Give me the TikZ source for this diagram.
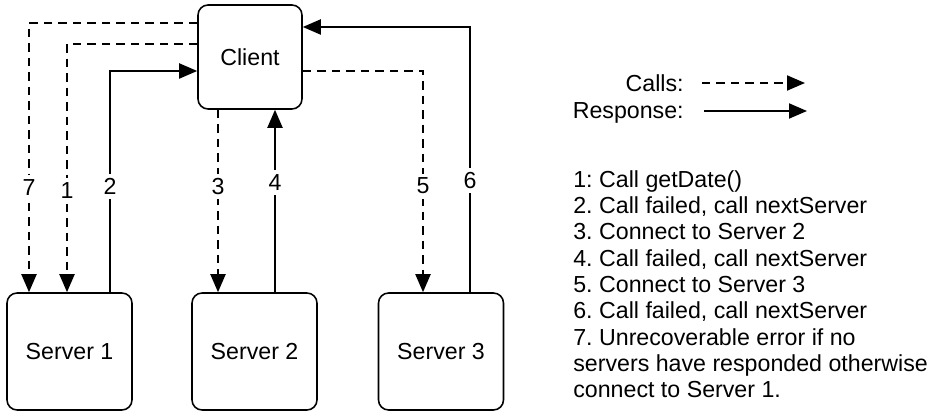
\documentclass[tikz,border=0pt]{standalone}
\usepackage{fontspec}
\setmainfont{Liberation Sans}
\usetikzlibrary{arrows.meta, positioning, calc}
\frenchspacing

\begin{document}
\begin{tikzpicture}[x=0.02cm, y=-0.02cm, font=\fontsize{13.2}{15.0}\selectfont,
	box/.style={rectangle, rounded corners=0.2cm, draw, line width=0.9pt},
	call/.style={line width=1.1pt, dash pattern=on 0.17cm off 0.12cm, -{Triangle[length=0.36cm, width=0.3cm]}},
	resp/.style={line width=1.1pt, -{Triangle[length=0.36cm, width=0.3cm]}},
	lbl/.style={fill=white, inner sep=2.5pt}]
	\useasboundingbox (0,0) rectangle (931,411);
	\node[box, minimum width=2.08cm, minimum height=2.08cm] (client) at (250,57) {Client};
	\node[box, minimum width=2.5cm, minimum height=2.34cm] (srv1) at (69.5,351.5) {Server 1};
	\node[box, minimum width=2.5cm, minimum height=2.34cm] (srv2) at (254.5,351.5) {Server 2};
	\node[box, minimum width=2.5cm, minimum height=2.34cm] (srv3) at (441,351.5) {Server 3};
	% bends of the connectors
	\coordinate (c7) at (29,23);
	\coordinate (c1) at (67,44);
	\coordinate (c2) at (110,71);
	\coordinate (c3) at (218,0);
	\coordinate (c4) at (275,0);
	\coordinate (c5) at (423,71);
	\coordinate (c6) at (470,27);
	\draw[call] (c7 -| client.west) -- (c7) -- (c7 |- srv1.north) node[lbl, pos=0.61] (l7) {7};
	\draw[call] (c1 -| client.west) -- (c1) -- (c1 |- srv1.north) node[lbl, pos=0.59] (l1) {1};
	\draw[resp] (c2 |- srv1.north) -- node[lbl, pos=0.48] (l2) {2} (c2) -- (c2 -| client.west);
	\draw[call] (c3 |- client.south) -- node[lbl, pos=0.42] (l3) {3} (c3 |- srv2.north);
	\draw[resp] (c4 |- srv2.north) -- node[lbl, pos=0.6] (l4) {4} (c4 |- client.south);
	\draw[call] (c5 -| client.east) -- (c5) -- (c5 |- srv3.north) node[lbl, pos=0.52] (l5) {5};
	\draw[resp] (c6 |- srv3.north) -- node[lbl, pos=0.42] (l6) {6} (c6) -- (c6 -| client.east);
	% legend
	\node[anchor=east, inner sep=0, text depth=0pt] (calls) at (684,83) {Calls:};
	\node[anchor=east, inner sep=0, text depth=0pt] (response) at (684,111) {Response:};
	\coordinate (callsend) at (805,83);
	\coordinate (respend) at (807,111);
	\draw[call] ([xshift=0.36cm]calls.east) -- (callsend);
	\draw[resp] ([xshift=0.4cm]response.east) -- (respend);
	\node[anchor=north west, align=left, inner sep=0] (notes) at (573,170)
		{1: Call getDate()\\
		2. Call failed, call nextServer\\
		3. Connect to Server 2\\
		4. Call failed, call nextServer\\
		5. Connect to Server 3\\
		6. Call failed, call nextServer\\
		7. Unrecoverable error if no\\
		servers have responded otherwise\\
		connect to Server 1.};
\end{tikzpicture}
\end{document}
